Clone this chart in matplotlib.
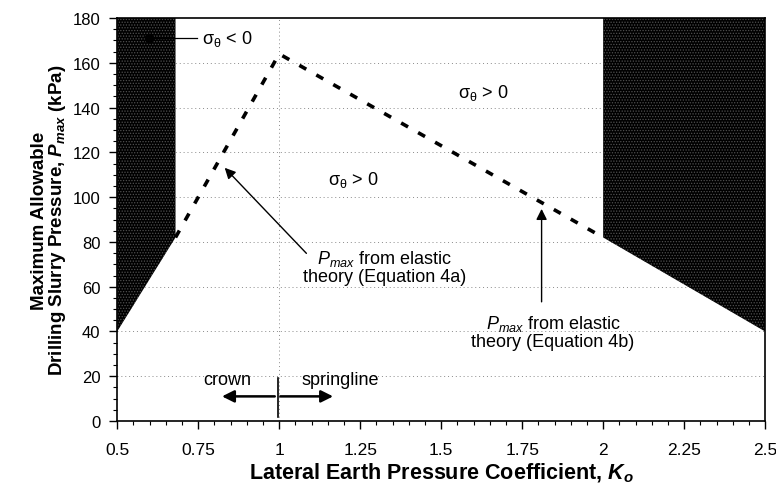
import matplotlib
matplotlib.use("Agg")
import matplotlib.pyplot as plt
from matplotlib.ticker import MultipleLocator

plt.rcParams["font.family"] = ["Liberation Sans", "DejaVu Sans"]
plt.rcParams["mathtext.fontset"] = "custom"
plt.rcParams["mathtext.rm"] = "Liberation Sans"
plt.rcParams["mathtext.it"] = "Liberation Sans:italic"
plt.rcParams["mathtext.bf"] = "Liberation Sans:bold"
plt.rcParams["mathtext.bfit"] = "Liberation Sans:italic:bold"
plt.rcParams["hatch.linewidth"] = 0.6

# ----------------------------------------------------------------
# DATA
# ----------------------------------------------------------------
pmax_k = [0.68, 1.0, 2.0]          # elastic-theory Pmax line (Eq. 4a / 4b)
pmax_p = [82, 164, 82]

left_zone_k = [0.5, 0.68, 0.68, 0.5]   # sigma_theta < 0 region, left
left_zone_p = [40, 82, 180, 180]
right_zone_k = [2.0, 2.5, 2.5, 2.0]    # sigma_theta < 0 region, right
right_zone_p = [82, 40, 180, 180]

x_ticks = [0.5, 0.75, 1, 1.25, 1.5, 1.75, 2, 2.25, 2.5]
x_tick_labels = ["0.5", "0.75", "1", "1.25", "1.5", "1.75", "2", "2.25", "2.5"]
y_ticks = list(range(0, 181, 20))

SIG_NEG = "σ$_{\\rm θ}$ < 0"
SIG_POS = "σ$_{\\rm θ}$ > 0"

fig = plt.figure(figsize=(7.76, 4.89), dpi=100)
ax = fig.add_axes([0.151, 0.137, 0.835, 0.824])

# shaded zones
for kk, pp in [(left_zone_k, left_zone_p), (right_zone_k, right_zone_p)]:
    ax.fill(kk, pp, facecolor="black", edgecolor="#505050", hatch="......", lw=0, zorder=2)

# grid: dotted horizontal lines and dotted line at K0 = 1
for y in y_ticks[1:-1]:
    ax.axhline(y, color="#8a8a8a", lw=0.7, ls=(0, (1, 3)), zorder=1)
ax.axvline(1.0, color="#8a8a8a", lw=0.7, ls=(0, (1, 3)), zorder=1)

# Pmax lines
ax.plot(pmax_k, pmax_p, color="black", lw=2.6, ls=(0, (2.2, 3.2)), zorder=3)

# annotations
ax.plot([0.598], [171], "o", color="black", ms=6, zorder=4)
ax.plot([0.598, 0.745], [171, 171], color="black", lw=0.9, zorder=4)
ax.text(0.762, 171, SIG_NEG, fontsize=13, va="center", ha="left")
ax.text(1.63, 147, SIG_POS, fontsize=13, va="center", ha="center")
ax.text(1.23, 108, SIG_POS, fontsize=13, va="center", ha="center")

ax.annotate("", xy=(0.826, 114), xytext=(1.09, 74),
            arrowprops=dict(arrowstyle="-|>", color="black", lw=1.0, mutation_scale=16))
ax.text(1.325, 69, "$P_{max}$ from elastic\ntheory (Equation 4a)", fontsize=13,
        ha="center", va="center", linespacing=1.05)

ax.annotate("", xy=(1.81, 96), xytext=(1.81, 52),
            arrowprops=dict(arrowstyle="-|>", color="black", lw=1.0, mutation_scale=16))
ax.text(1.845, 40, "$P_{max}$ from elastic\ntheory (Equation 4b)", fontsize=13,
        ha="center", va="center", linespacing=1.05)

# crown / springline marker
ax.plot([0.995, 0.995], [2, 19], color="black", lw=1.2, zorder=4)
ax.annotate("", xy=(0.815, 11), xytext=(0.995, 11),
            arrowprops=dict(arrowstyle="-|>", color="black", lw=1.8, mutation_scale=18))
ax.annotate("", xy=(1.175, 11), xytext=(0.995, 11),
            arrowprops=dict(arrowstyle="-|>", color="black", lw=1.8, mutation_scale=18))
ax.text(0.84, 18.5, "crown", fontsize=13, ha="center", va="center")
ax.text(1.19, 18.5, "springline", fontsize=13, ha="center", va="center")

# axes
ax.set_xlim(0.5, 2.5)
ax.set_ylim(0, 180)
ax.set_xticks(x_ticks)
ax.set_xticklabels(x_tick_labels)
ax.set_yticks(y_ticks)
ax.xaxis.set_minor_locator(MultipleLocator(0.05))
ax.yaxis.set_minor_locator(MultipleLocator(5))
ax.tick_params(which="major", direction="out", length=6, width=1)
ax.tick_params(which="minor", direction="out", length=3, width=0.8)
ax.tick_params(axis="x", labelsize=12.5, pad=9)
ax.tick_params(axis="y", labelsize=12, pad=6)
for s in ax.spines.values():
    s.set_linewidth(1.2)

ax.set_xlabel(r"Lateral Earth Pressure Coefficient, $\mathbfit{K_o}$",
              fontsize=15.5, fontweight="bold", labelpad=3)
ax.set_ylabel("Maximum Allowable\n" + r"Drilling Slurry Pressure, $\mathbfit{P_{max}}$ (kPa)",
              fontsize=13.5, fontweight="bold", labelpad=3, linespacing=0.95)

fig.savefig("out.png", dpi=100)
